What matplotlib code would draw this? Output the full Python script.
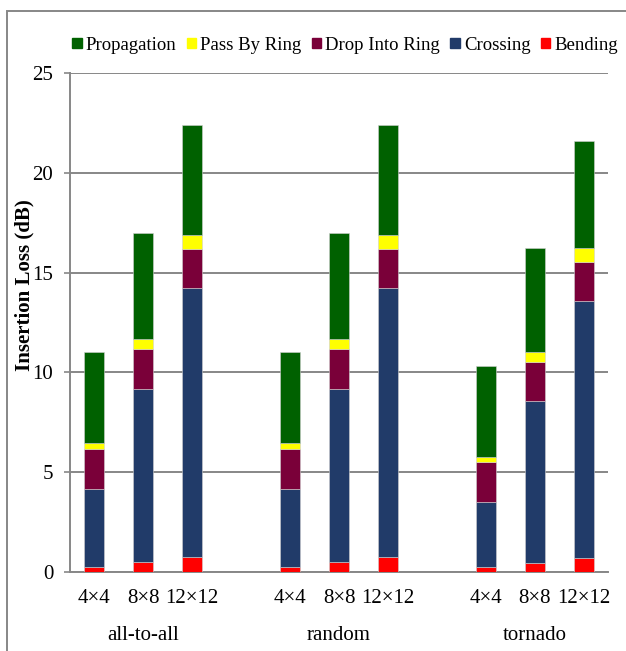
"""
Stacked insertion loss chart, Excel-like styling
"""

import matplotlib
matplotlib.use('Agg')
import matplotlib.pyplot as plt
import matplotlib.patches as mpatches
import numpy as np

plt.rcParams['font.family'] = 'Liberation Serif'
plt.rcParams['font.size'] = 15

# data
patterns = ['all-to-all', 'random', 'tornado']
sizes = ['4\u00d74', '8\u00d78', '12\u00d712']

bending = [0.25, 0.5, 0.75, 0.25, 0.5, 0.75, 0.25, 0.47, 0.72]
crossing = [3.91, 8.65, 13.46, 3.91, 8.65, 13.46, 3.26, 8.08, 12.86]
drop_into_ring = [1.99, 2.0, 1.96, 1.99, 2.0, 1.96, 2.01, 1.99, 1.97]
pass_by_ring = [0.3, 0.5, 0.71, 0.3, 0.5, 0.71, 0.25, 0.48, 0.7]
propagation = [4.59, 5.31, 5.52, 4.59, 5.31, 5.52, 4.55, 5.2, 5.35]

COLORS = {
    'Bending': '#FF0000',
    'Crossing': '#213B69',
    'Drop Into Ring': '#7A0039',
    'Pass By Ring': '#FFFF00',
    'Propagation': '#006100',
}
GRAY = '#878787'

series = [
    ('Bending', bending),
    ('Crossing', crossing),
    ('Drop Into Ring', drop_into_ring),
    ('Pass By Ring', pass_by_ring),
    ('Propagation', propagation),
]

# one empty slot between pattern groups
x = np.array([g * (len(sizes) + 1) + i
              for g in range(len(patterns)) for i in range(len(sizes))])

fig = plt.figure(figsize=(6.26, 6.51), dpi=100)
ax = fig.add_axes([70 / 626, 1 - 572 / 651, 538 / 626, 499 / 651])

bottom = np.zeros(len(x))
for name, vals in series:
    vals = np.array(vals)
    ax.bar(x, vals, width=0.41, bottom=bottom, color=COLORS[name],
           edgecolor='#d0d0d0', linewidth=0.4, zorder=3)
    bottom += vals

ax.set_xlim(-0.5, x[-1] + 0.5)
ax.set_ylim(0, 25)
ax.set_yticks(range(0, 26, 5))
ax.yaxis.grid(True, color=GRAY, linewidth=1.4)
ax.set_axisbelow(True)

for side in ['top', 'right']:
    ax.spines[side].set_visible(False)
for side in ['left', 'bottom']:
    ax.spines[side].set_color(GRAY)
    ax.spines[side].set_linewidth(1.4)

ax.tick_params(axis='y', length=4, width=1.2, color=GRAY, pad=8)
ax.set_xticks(x)
ax.set_xticklabels(sizes * len(patterns))
ax.tick_params(axis='x', length=0, pad=12)

# group labels under middle bars
for g, name in enumerate(patterns):
    ax.text(x[g * len(sizes) + 1], -63 / 499, name, transform=ax.get_xaxis_transform(),
            ha='center', va='center', fontsize=15)

fig.text(24 / 626, 1 - 285 / 651, 'Insertion Loss (dB)', rotation=90,
         ha='center', va='center', fontsize=15, fontweight='bold')

legend_order = ['Propagation', 'Pass By Ring', 'Drop Into Ring', 'Crossing', 'Bending']
leg_handles = [mpatches.Patch(color=COLORS[n]) for n in legend_order]
fig.legend(leg_handles, legend_order, loc='center', bbox_to_anchor=(345 / 626, 1 - 45 / 651),
           ncol=5, frameon=False, handlelength=0.5, handleheight=0.5,
           handletextpad=0.22, columnspacing=0.55, fontsize=13.5)

# outer chart frame
frame = mpatches.Rectangle((7 / 626, -0.1), 1.2, 1 - 11 / 651 + 0.1, transform=fig.transFigure,
                           fill=False, edgecolor=GRAY, linewidth=1.4)
fig.patches.append(frame)

plt.savefig('out.png', dpi=100, facecolor='white')
plt.close()
